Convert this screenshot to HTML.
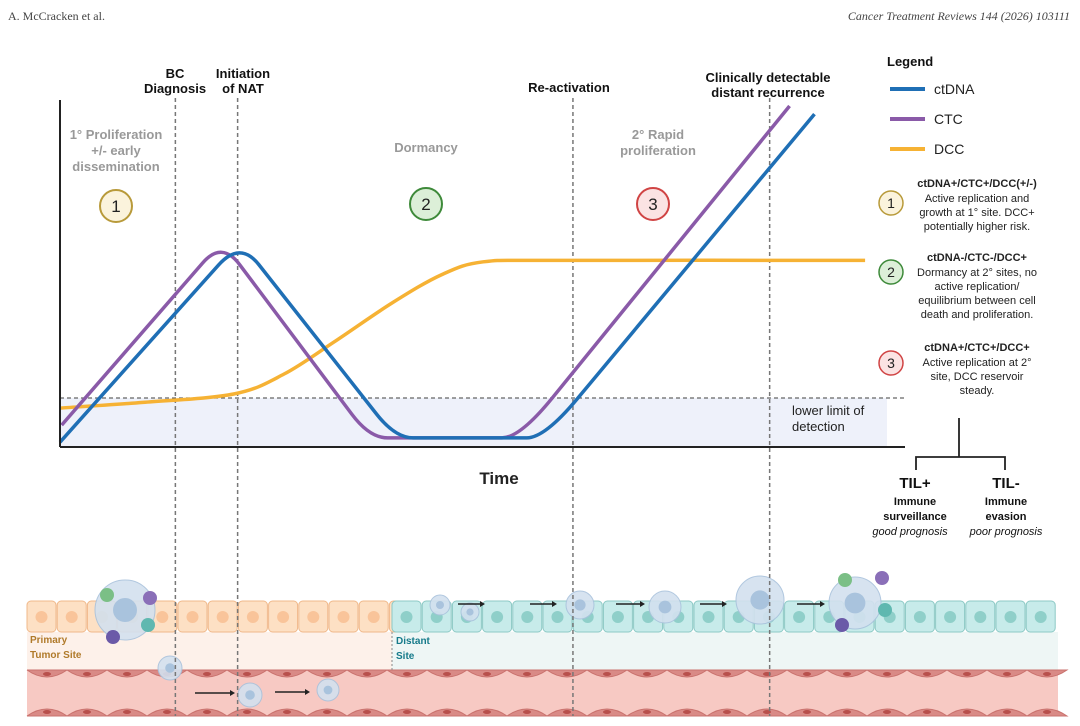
<!DOCTYPE html>
<html><head><meta charset="utf-8"><style>
body{margin:0;background:#fff;}
svg{display:block;font-family:"Liberation Sans",sans-serif;}
</style></head><body>
<svg id="fig" width="1080" height="726" viewBox="0 0 1080 726" xmlns="http://www.w3.org/2000/svg">
<text x="8" y="20" font-family="Liberation Serif" font-size="12" fill="#444">A. McCracken et al.</text>
<text x="1070" y="20" text-anchor="end" font-family="Liberation Serif" font-style="italic" font-size="12" fill="#444">Cancer Treatment Reviews 144 (2026) 103111</text>

<g id="tissue"></g>

<rect x="60" y="398" width="827" height="48" fill="#eef1fa"/>
<line x1="60" y1="398" x2="905" y2="398" stroke="#666" stroke-dasharray="4,3" stroke-width="1.2"/>
<text x="792" y="415" font-size="13" fill="#222">lower limit of</text>
<text x="792" y="431" font-size="13" fill="#222">detection</text>

<g id="vlines"></g>
<g id="curves"></g>

<line x1="60" y1="100" x2="60" y2="447" stroke="#222" stroke-width="2"/>
<line x1="60" y1="447" x2="905" y2="447" stroke="#222" stroke-width="2"/>
<text x="499" y="484" text-anchor="middle" font-size="17" font-weight="bold" fill="#222">Time</text>

<g font-size="13" font-weight="bold" fill="#111" text-anchor="middle">
<text x="175" y="78">BC</text>
<text x="175" y="93">Diagnosis</text>
<text x="243" y="78">Initiation</text>
<text x="243" y="93">of NAT</text>
<text x="569" y="92">Re-activation</text>
<text x="768" y="82">Clinically detectable</text>
<text x="768" y="97">distant recurrence</text>
</g>
<g font-size="13" font-weight="bold" fill="#999" text-anchor="middle">
<text x="116" y="139">1° Proliferation</text>
<text x="116" y="155">+/- early</text>
<text x="116" y="171">dissemination</text>
<text x="426" y="152">Dormancy</text>
<text x="658" y="139">2° Rapid</text>
<text x="658" y="155">proliferation</text>
</g>
<g font-size="17" text-anchor="middle" fill="#222">
<circle cx="116" cy="206" r="16" fill="#fbf3dc" stroke="#b89a3a" stroke-width="2"/><text x="116" y="212">1</text>
<circle cx="426" cy="204" r="16" fill="#dcefd8" stroke="#3e8a3a" stroke-width="2"/><text x="426" y="210">2</text>
<circle cx="653" cy="204" r="16" fill="#fbe3e3" stroke="#d04444" stroke-width="2"/><text x="653" y="210">3</text>
</g>

<g>
<text x="887" y="66" font-size="13" font-weight="bold" fill="#111">Legend</text>
<line x1="890" y1="89" x2="925" y2="89" stroke="#1f6fb5" stroke-width="4"/>
<text x="934" y="94" font-size="14" fill="#222">ctDNA</text>
<line x1="890" y1="119" x2="925" y2="119" stroke="#8a5aa8" stroke-width="4"/>
<text x="934" y="124" font-size="14" fill="#222">CTC</text>
<line x1="890" y1="149" x2="925" y2="149" stroke="#f6b234" stroke-width="4"/>
<text x="934" y="154" font-size="14" fill="#222">DCC</text>
</g>

<g font-size="11" fill="#222" text-anchor="middle">
<circle cx="891" cy="203" r="12" fill="#fbf3dc" stroke="#b89a3a" stroke-width="1.5"/><text x="891" y="208" font-size="14">1</text>
<text x="977" y="187" font-weight="bold">ctDNA+/CTC+/DCC(+/-)</text>
<text x="977" y="202">Active replication and</text>
<text x="977" y="216">growth at 1° site. DCC+</text>
<text x="977" y="230">potentially higher risk.</text>
<circle cx="891" cy="272" r="12" fill="#dcefd8" stroke="#3e8a3a" stroke-width="1.5"/><text x="891" y="277" font-size="14">2</text>
<text x="977" y="261" font-weight="bold">ctDNA-/CTC-/DCC+</text>
<text x="977" y="276">Dormancy at 2° sites, no</text>
<text x="977" y="290">active replication/</text>
<text x="977" y="304">equilibrium between cell</text>
<text x="977" y="318">death and proliferation.</text>
<circle cx="891" cy="363" r="12" fill="#fbe3e3" stroke="#d04444" stroke-width="1.5"/><text x="891" y="368" font-size="14">3</text>
<text x="977" y="351" font-weight="bold">ctDNA+/CTC+/DCC+</text>
<text x="977" y="366">Active replication at 2°</text>
<text x="977" y="380">site, DCC reservoir</text>
<text x="977" y="394">steady.</text>
</g>
<g stroke="#222" stroke-width="1.8" fill="none">
<path d="M959 418 V457 M916 470 V457 H1005 V470"/>
</g>
<g text-anchor="middle" fill="#111">
<text x="915" y="488" font-size="15" font-weight="bold">TIL+</text>
<text x="1006" y="488" font-size="15" font-weight="bold">TIL-</text>
<text x="915" y="505" font-size="11" font-weight="bold">Immune</text>
<text x="915" y="520" font-size="11" font-weight="bold">surveillance</text>
<text x="910" y="535" font-size="11" font-style="italic">good prognosis</text>
<text x="1006" y="505" font-size="11" font-weight="bold">Immune</text>
<text x="1006" y="520" font-size="11" font-weight="bold">evasion</text>
<text x="1006" y="535" font-size="11" font-style="italic">poor prognosis</text>
</g>
</svg>
<script>
const timePoints = [0, 21.7, 40.4, 58.4, 90.9];
const ctdnaValues = [0.8, 57.5, 2, 2, 93.2];
const ctcTime = [0.2, 19.5, 37.3, 55.4, 87.9];
const ctcValues = [5.6, 57.5, 2, 2, 95.5];
const dccTime = [0, 10, 21, 27, 33, 40, 46, 51, 60, 97];
const dccValues = [10.4, 12, 14.4, 20, 29, 40, 48, 51.6, 52, 52];
const milestoneTimes = [13.9, 21.4, 61.8, 85.5];

const NS = "http://www.w3.org/2000/svg";
function xs(t){ return 60 + t / 100 * 830; }
function ys(v){ return 445 - v / 100 * 355; }
function mk(tag, attrs, parent){
  const e = document.createElementNS(NS, tag);
  for (const k in attrs) e.setAttribute(k, attrs[k]);
  parent.appendChild(e); return e;
}
function roundedPath(tt, vv){
  const p = tt.map((t,i)=>[xs(t), ys(vv[i])]);
  let d = "M" + p[0][0] + " " + p[0][1];
  for (let i=1;i<p.length-1;i++){
    const a=p[i-1], b=p[i], c=p[i+1], r=0.12;
    const s=[b[0]+(a[0]-b[0])*r, b[1]+(a[1]-b[1])*r];
    const e=[b[0]+(c[0]-b[0])*r, b[1]+(c[1]-b[1])*r];
    d += " L"+s[0]+" "+s[1]+" Q"+b[0]+" "+b[1]+" "+e[0]+" "+e[1];
  }
  d += " L"+p[p.length-1][0]+" "+p[p.length-1][1];
  return d;
}
function smoothPath(tt, vv){
  const p = tt.map((t,i)=>[xs(t), ys(vv[i])]);
  let d = "M"+p[0][0]+" "+p[0][1];
  for (let i=0;i<p.length-1;i++){
    const p0=p[Math.max(0,i-1)], p1=p[i], p2=p[i+1], p3=p[Math.min(p.length-1,i+2)];
    const c1=[p1[0]+(p2[0]-p0[0])/6, p1[1]+(p2[1]-p0[1])/6];
    const c2=[p2[0]-(p3[0]-p1[0])/6, p2[1]-(p3[1]-p1[1])/6];
    d += " C"+c1[0]+" "+c1[1]+" "+c2[0]+" "+c2[1]+" "+p2[0]+" "+p2[1];
  }
  return d;
}
const cg = document.getElementById("curves");
const dcc = mk("path",{d:smoothPath(dccTime,dccValues),fill:"none",stroke:"#f6b234","stroke-width":3.5},cg);


const ctc = mk("path",{d:roundedPath(ctcTime,ctcValues),fill:"none",stroke:"#8a5aa8","stroke-width":3.5,"stroke-linejoin":"round"},cg);


const ct = mk("path",{d:roundedPath(timePoints,ctdnaValues),fill:"none",stroke:"#1f6fb5","stroke-width":3.5,"stroke-linejoin":"round"},cg);



// tissue
const tg = document.getElementById("tissue");
mk("rect",{x:27,y:632,width:365,height:38,fill:"#fdf1ea"},tg);
mk("rect",{x:392,y:632,width:666,height:38,fill:"#eef6f5"},tg);
const ves = mk("rect",{x:27,y:670,width:1031,height:46,fill:"#f7c9c3"},tg);


for (let x=27;x<1058;x+=40){
  mk("path",{d:`M${x} 670 H${x+40} Q${x+20} 684 ${x} 670`,fill:"#d98a86",stroke:"#c9716d","stroke-width":1},tg);
  mk("ellipse",{cx:x+20,cy:674,rx:4,ry:2,fill:"#b8504c"},tg);
  mk("path",{d:`M${x} 716 H${x+40} Q${x+20} 702 ${x} 716`,fill:"#d98a86",stroke:"#c9716d","stroke-width":1},tg);
  mk("ellipse",{cx:x+20,cy:712,rx:4,ry:2,fill:"#b8504c"},tg);
}
for (let x=27;x<390;x+=30.2){
  const c = mk("rect",{x:x,y:601,width:29,height:31,rx:4,fill:"#fde0c4",stroke:"#f0b88a","stroke-width":1},tg);
  
  
  mk("circle",{cx:x+14.5,cy:617,r:6,fill:"#f9c49a"},tg);
}
for (let x=392;x<1056;x+=30.2){
  const c = mk("rect",{x:x,y:601,width:29,height:31,rx:4,fill:"#c7ebea",stroke:"#8cc9c5","stroke-width":1},tg);
  
  
  mk("circle",{cx:x+14.5,cy:617,r:6,fill:"#8fcfc9"},tg);
}
const clusters = [[125,610,30],[440,605,10],[470,612,9],[580,605,14],[665,607,16],[760,600,24],[855,603,26],[170,668,12],[250,695,12],[328,690,11]];
clusters.forEach(c=>{
  const g = mk("circle",{cx:c[0],cy:c[1],r:c[2],fill:"#d3e1ef",stroke:"#a9c2dc","stroke-width":1,opacity:0.9},tg);
  
  
  mk("circle",{cx:c[0],cy:c[1],r:c[2]*0.4,fill:"#a9c3dd"},tg);
});
[[107,595,"#7bbf86"],[150,598,"#8a6fb8"],[148,625,"#5fb8b0"],[113,637,"#6b5aa8"],[845,580,"#7bbf86"],[882,578,"#8a6fb8"],[885,610,"#5fb8b0"],[842,625,"#6b5aa8"]].forEach(c=>{
  const g = mk("circle",{cx:c[0],cy:c[1],r:7,fill:c[2]},tg);
  
  
});
[[458,604,480],[530,604,552],[616,604,640],[700,604,722],[797,604,820],[195,693,230],[275,692,305]].forEach(a=>{
  mk("path",{d:`M${a[0]} ${a[1]} H${a[2]}`,stroke:"#222","stroke-width":1.6},tg);
  mk("path",{d:`M${a[2]} ${a[1]-3} L${a[2]+5} ${a[1]} L${a[2]} ${a[1]+3}Z`,fill:"#222"},tg);
});
mk("line",{x1:392,y1:632,x2:392,y2:670,stroke:"#888","stroke-dasharray":"2,2"},tg);
[["Primary",30,643,"#b07a2a"],["Tumor Site",30,658,"#b07a2a"],["Distant",396,644,"#157a8a"],["Site",396,659,"#157a8a"]].forEach(l=>{
  const t = mk("text",{x:l[1],y:l[2],"font-size":10,"font-weight":"bold",fill:l[3]},tg);
  t.textContent = l[0];
  
  
});

const vg = document.getElementById("vlines");
milestoneTimes.forEach(t=>{
  const l = mk("line",{x1:xs(t),y1:98,x2:xs(t),y2:716,stroke:"#777","stroke-width":1.5,"stroke-dasharray":"4,3"},vg);
  
  
});
</script>
</body></html>
